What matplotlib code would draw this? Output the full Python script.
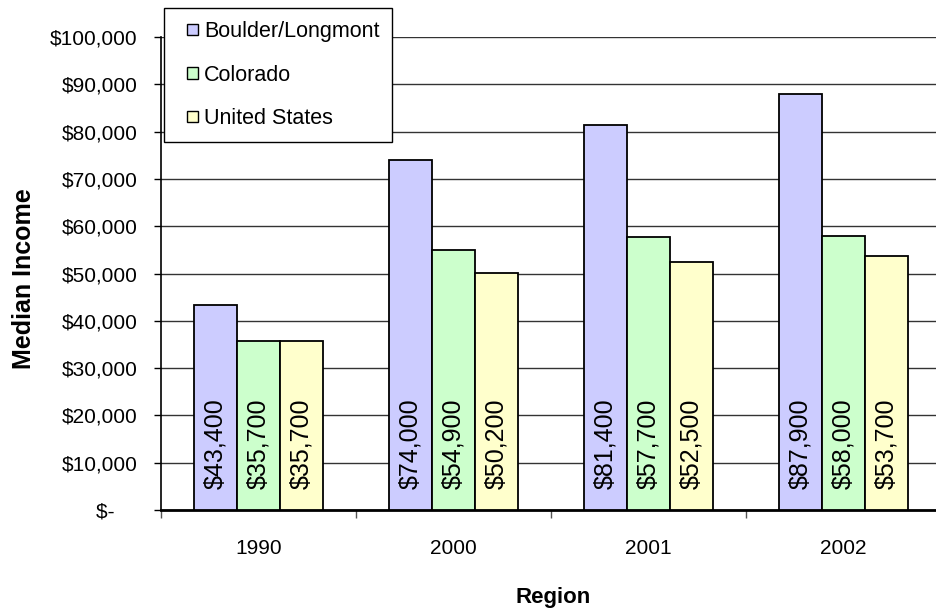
import matplotlib
matplotlib.use("Agg")
import matplotlib.pyplot as plt
from matplotlib.patches import Rectangle
from matplotlib.legend_handler import HandlerPatch, update_from_first_child
from matplotlib.container import BarContainer
import numpy as np

plt.rcParams['font.family'] = ['Liberation Sans', 'DejaVu Sans']

years = ["1990", "2000", "2001", "2002"]
series_names = ["Boulder/Longmont", "Colorado", "United States"]
boulder = [43400, 74000, 81400, 87900]
colorado = [35700, 54900, 57700, 58000]
us = [35700, 50200, 52500, 53700]
colors = ["#CCCCFF", "#CCFFCC", "#FFFFCC"]
yticks = list(range(0, 100001, 10000))

fig = plt.figure(figsize=(9.37, 6.13), dpi=100)
ax = fig.add_axes([161/937, 103/613, 780/937, 473/613])

x = np.arange(len(years))
w = 0.22
all_series = [boulder, colorado, us]
for i, (vals, col, name) in enumerate(zip(all_series, colors, series_names)):
    pos = x + (i - 1) * w
    ax.bar(pos, vals, width=w, color=col, edgecolor="black", linewidth=1.3,
           label=name, zorder=3)
    for p, v in zip(pos, vals):
        ax.text(p, 4500, f"${v:,}", rotation=90, ha="center", va="bottom",
                fontsize=18, zorder=4)

ax.set_xlim(-0.5, 3.5)
ax.set_ylim(0, 100000)
ax.set_yticks(yticks)
ax.set_yticklabels([("$-    " if t == 0 else f"${t:,}") for t in yticks], fontsize=15)
ax.yaxis.grid(True, color="#333333", linewidth=1.0, zorder=0)
ax.set_axisbelow(True)

ax.set_xticks(x)
ax.set_xticklabels(years, fontsize=15)
ax.set_xticks(np.arange(-0.5, 4.0, 1.0), minor=True)
ax.tick_params(axis="x", which="major", length=0, pad=21)
ax.tick_params(axis="x", which="minor", length=6, width=1, color="#555555")
ax.tick_params(axis="y", length=5, width=1, pad=12)

for s in ["top", "right"]:
    ax.spines[s].set_visible(False)
ax.spines["left"].set_linewidth(1.2)
ax.spines["bottom"].set_linewidth(2.0)

fig.text(24/937, 1 - 279/613, "Median Income", rotation=90, ha="center", va="center",
         fontsize=18, fontweight="bold")
fig.text(553/937, 1 - 603/613, "Region", ha="center", va="baseline",
         fontsize=16, fontweight="bold")


def square_patch(legend, orig_handle, xdescent, ydescent, width, height, fontsize):
    s = 0.52 * fontsize
    return Rectangle((-xdescent + width - s, -ydescent + (height - s) / 2), s, s)


leg = fig.legend(loc="upper left", bbox_to_anchor=(164/937, 1 - 8/613),
                 fontsize=15.5, frameon=True, fancybox=False, framealpha=1,
                 edgecolor="black", handlelength=1.0, handleheight=0.7,
                 handletextpad=0.25, labelspacing=1.05, borderpad=0.6,
                 borderaxespad=0,
                 handler_map={BarContainer: HandlerPatch(patch_func=square_patch,
                                                         update_func=update_from_first_child)})
leg.get_frame().set_linewidth(1.0)
for h in leg.legend_handles:
    h.set_linewidth(1.0)
leg.set_zorder(10)

fig.savefig("out.png", dpi=100)
